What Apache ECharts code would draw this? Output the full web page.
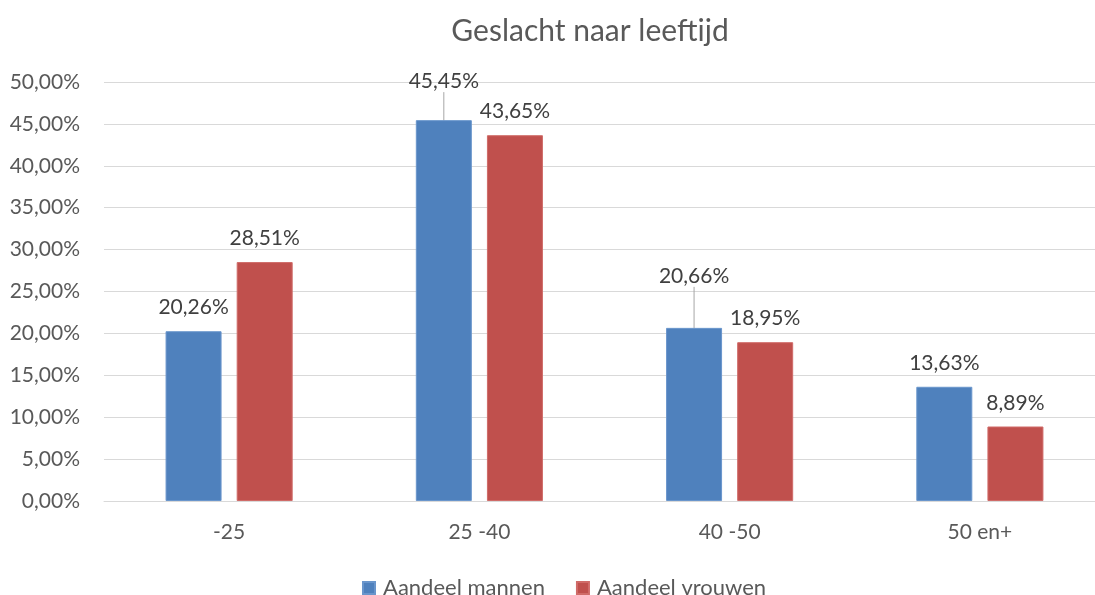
<!DOCTYPE html>
<html>
<head>
<meta charset="utf-8">
<script src="https://cdn.jsdelivr.net/npm/echarts@6/dist/echarts.min.js"></script>
<style>
    html, body { margin: 0; padding: 0; background: #fff; }
    #chart { width: 1095px; height: 595px; }
</style>
</head>
<body>
<div id="chart"></div>
<script>
    var categories = ['-25', '25 -40', '40 -50', '50 en+'];
    var mannen = [20.26, 45.45, 20.66, 13.63];
    var vrouwen = [28.51, 43.65, 18.95, 8.89];
    var yTicks = [0, 5, 10, 15, 20, 25, 30, 35, 40, 45, 50];

    // labels that were pulled up in the original, with a leader line
    var mannenLift = [0, -15, -28, 0];

    function pct(v) {
        return v.toFixed(2).replace('.', ',') + '%';
    }

    var font = 'Lato, "Open Sans", sans-serif';
    var myChart = echarts.init(document.getElementById('chart'));
    var option = {
        animation: false,
        textStyle: { fontFamily: font },
        title: {
            text: 'Geslacht naar leeftijd',
            left: 585,
            textAlign: 'center',
            top: 11,
            textStyle: { fontFamily: font, fontSize: 30, fontWeight: 'normal', color: '#595959' }
        },
        legend: {
            data: ['Aandeel mannen', 'Aandeel vrouwen'],
            left: 357,
            top: 572,
            itemWidth: 12,
            itemHeight: 12,
            itemGap: 31,
            icon: 'rect',
            textStyle: { fontFamily: font, fontSize: 22, color: '#595959', padding: [0, 0, 0, 3] }
        },
        grid: {
            left: 104,
            width: 1001,
            top: 82,
            bottom: 94,
            outerBoundsMode: 'none'
        },
        xAxis: {
            type: 'category',
            data: categories,
            axisTick: { show: false },
            axisLine: { lineStyle: { color: '#d9d9d9', width: 1 } },
            axisLabel: { fontFamily: font, fontSize: 21, color: '#595959', margin: 21 }
        },
        yAxis: {
            type: 'value',
            min: yTicks[0],
            max: yTicks[yTicks.length - 1],
            interval: 5,
            axisLine: { show: false },
            axisTick: { show: false },
            splitLine: { lineStyle: { color: '#d9d9d9', width: 1 } },
            axisLabel: {
                fontFamily: font, fontSize: 21, color: '#595959', margin: 24,
                formatter: function (v) { return pct(v); }
            }
        },
        series: [
            {
                name: 'Aandeel mannen',
                type: 'bar',
                data: mannen.map(function (v, i) {
                    return { value: v, labelLine: { show: mannenLift[i] !== 0 } };
                }),
                barWidth: 56,
                barGap: '27%',
                itemStyle: { color: '#4f81bd', borderColor: '#6a96cc', borderWidth: 1 },
                label: {
                    show: true,
                    position: 'top',
                    distance: 13,
                    fontFamily: font,
                    fontSize: 21,
                    color: '#404040',
                    formatter: function (p) { return pct(p.value); }
                },
                labelLine: { show: false, lineStyle: { color: '#a6a6a6', width: 1 } },
                labelLayout: function (p) {
                    return { dy: mannenLift[p.dataIndex] };
                }
            },
            {
                name: 'Aandeel vrouwen',
                type: 'bar',
                data: vrouwen,
                barWidth: 56,
                itemStyle: { color: '#c0504d', borderColor: '#d06b68', borderWidth: 1 },
                label: {
                    show: true,
                    position: 'top',
                    distance: 13,
                    fontFamily: font,
                    fontSize: 21,
                    color: '#404040',
                    formatter: function (p) { return pct(p.value); }
                }
            }
        ]
    };
    myChart.setOption(option);
</script>
</body>
</html>
